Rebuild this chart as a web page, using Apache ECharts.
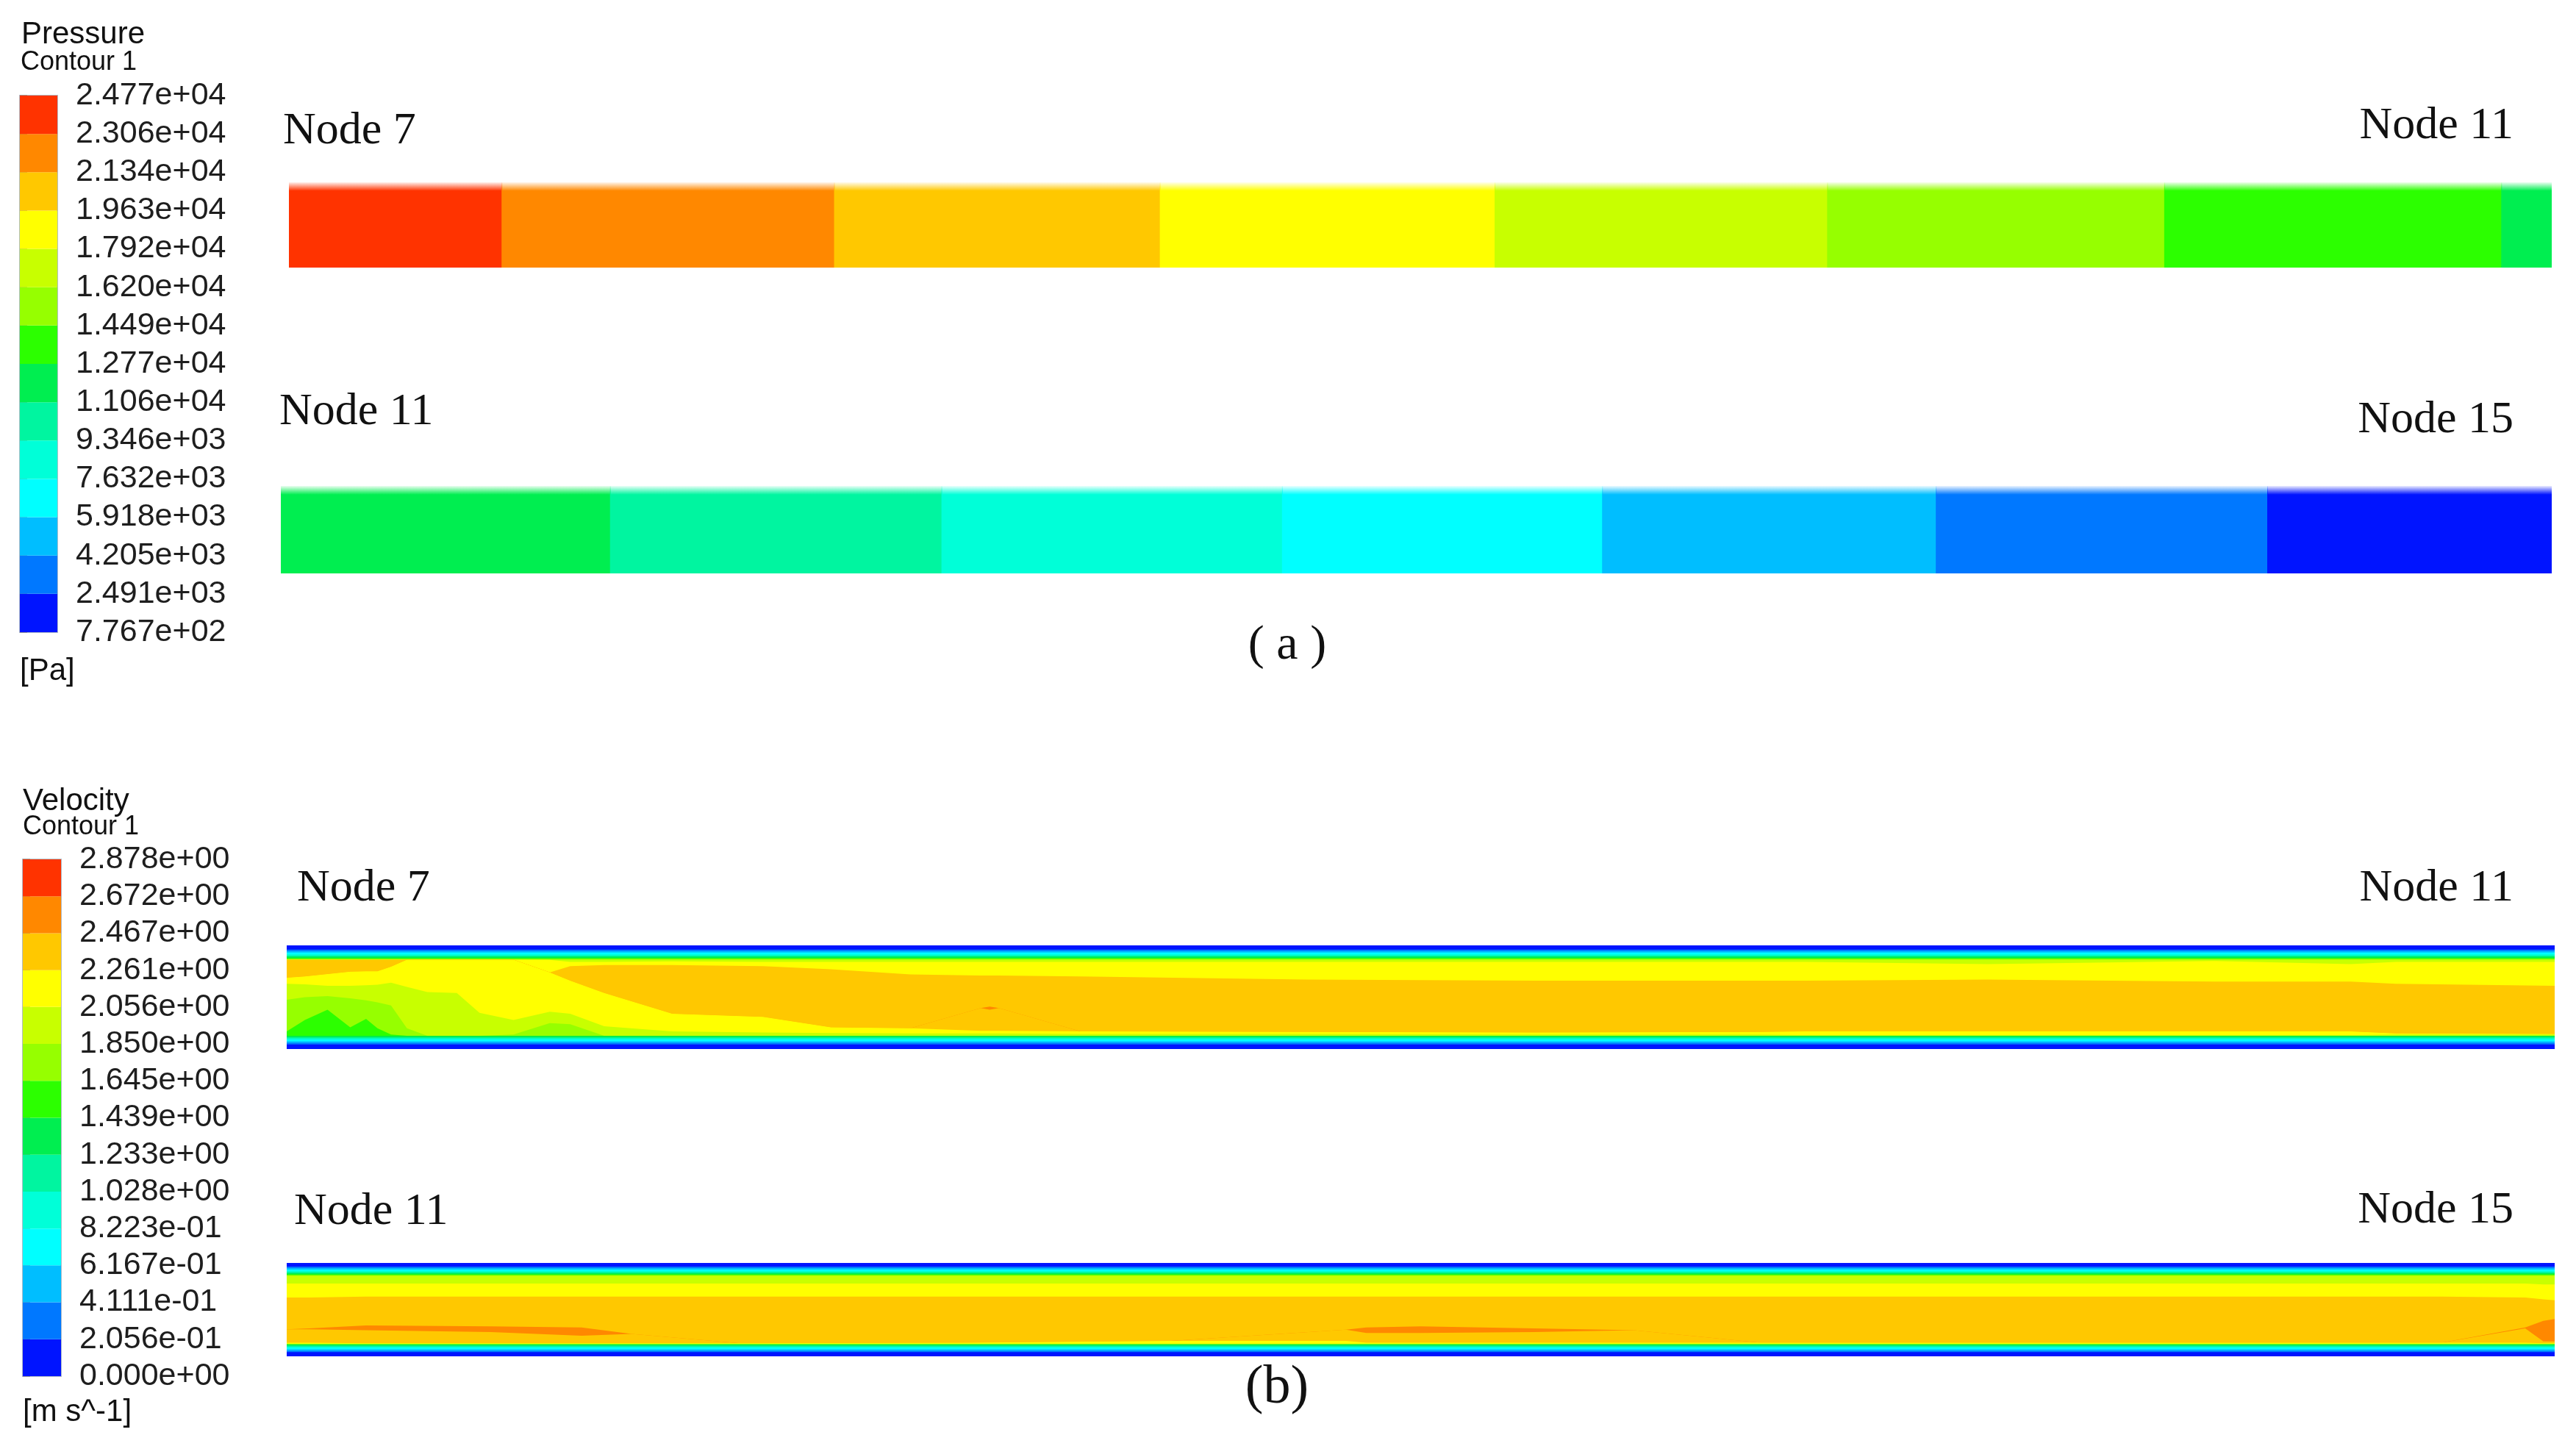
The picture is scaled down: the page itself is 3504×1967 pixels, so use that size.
<!DOCTYPE html>
<html>
<head>
<meta charset="utf-8">
<title>Pressure / Velocity contours</title>
<script src="https://cdn.jsdelivr.net/npm/echarts/dist/echarts.min.js"></script>
<style>
  html, body { margin: 0; padding: 0; background: #fff; }
  #main { width: 3504px; height: 1967px; }
</style>
</head>
<body>
<div id="main"></div>
<script>
// colour bands, low -> high (rainbow, 14 bands)
var bandColors = ['#0014ff', '#0078ff', '#00beff', '#00ffff', '#00ffd8', '#00f5a0', '#00ee50',
                  '#2cff00', '#96ff00', '#c8ff00', '#ffff00', '#ffc800', '#ff8800', '#ff3300'];

// legend tick labels (band boundaries)
var pressureTicks = ['7.767e+02', '2.491e+03', '4.205e+03', '5.918e+03', '7.632e+03', '9.346e+03', '1.106e+04',
                     '1.277e+04', '1.449e+04', '1.620e+04', '1.792e+04', '1.963e+04', '2.134e+04', '2.306e+04', '2.477e+04'];
var velocityTicks = ['0.000e+00', '2.056e-01', '4.111e-01', '6.167e-01', '8.223e-01', '1.028e+00', '1.233e+00',
                     '1.439e+00', '1.645e+00', '1.850e+00', '2.056e+00', '2.261e+00', '2.467e+00', '2.672e+00', '2.878e+00'];

// pressure along the pipes: segment edges (% of pipe length) and pressure [Pa]
var pTopEdges = [0, 9.4, 24.1, 38.5, 53.3, 68.0, 82.9, 97.8, 100];
var pTopValues = [24000, 22200, 20500, 18800, 17100, 15300, 13600, 11900];
var pBotEdges = [0, 14.5, 29.1, 44.1, 58.2, 72.9, 87.5, 100];
var pBotValues = [11900, 10200, 8500, 6800, 5100, 3400, 1600];

// velocity near-wall layers (thickness, % of pipe height)
var wallBottom = [4.5, 1.5, 1.5, 1.5, 1.2, 1.2, 1.3];            // bands 0..6 from the bottom wall
var wallTop = [4, 1.5, 1.5, 1.5, 1.2, 1.2, 1.3, 0.8, 0.8];        // bands 0..8 from the top wall

// velocity pipe Node 7 -> Node 11: contour boundaries (% of height from bottom) along x (% of length)
var vTopX = [0, 0.8, 1.8, 2.8, 3.5, 4.0, 4.6, 5.3, 6.2, 7.5, 8.5, 10, 11.6, 12.5, 14, 17, 21, 24, 27.5, 30.6, 31, 31.4, 35, 45, 55, 65, 67, 75, 85, 91, 93, 100];
var vTopLime = [17, 28, 38, 21, 29, 20, 14, 12.7, 12.7, 12.7, 12.7, 12.7, 12.7, 12.7, 12.7, 12.7, 12.7, 12.7, 12.7, 12.7, 12.7, 12.7, 12.7, 12.7, 12.7, 12.7, 12.7, 12.7, 12.7, 12.7, 12.7, 12.7];
var vTopChart = [47.5, 50, 51, 49, 47, 45, 42, 20, 12.7, 12.7, 12.7, 14, 25, 24, 12.7, 12.7, 12.7, 12.7, 12.7, 12.7, 12.7, 12.7, 12.7, 12.7, 12.7, 12.7, 12.7, 12.7, 12.7, 12.7, 12.7, 12.7];
var vTopC8 = [63, 62.5, 61, 61, 61.5, 62, 64, 60, 55, 54, 35, 28, 36, 34, 22, 17, 16, 15.5, 15, 15, 15, 15, 14.5, 14.5, 14, 14, 13.5, 13.5, 13.5, 13.5, 14, 14];
var vTopGoldLow = [68.8, 70, 72.3, 74.6, 75, 75, 79.5, 86.2, 86.2, 86.2, 86.2, 86.2, 74, 66, 54, 34, 31, 21, 20, 17.5, 17.5, 17.5, 17, 16.5, 16, 16.5, 17, 17, 17, 17, 15, 14.5];
var vTopOrangeLow = [null, null, null, null, null, null, null, null, null, null, null, null, null, null, null, null, null, null, null, 39.5, 38, 39.5, null, null, null, null, null, null, null, null, null, null];
var vTopOrangeHigh = [null, null, null, null, null, null, null, null, null, null, null, null, null, null, null, null, null, null, null, 39.5, 41, 39.5, null, null, null, null, null, null, null, null, null, null];
var vTopGoldHigh = [86.2, 86.2, 86.2, 86.2, 86.2, 86.2, 86.2, 86.2, 86.2, 86.2, 86.2, 86.2, 74, 80, 81, 81, 80, 77, 72, 71, 71, 71, 70, 67, 66, 66, 66, 67, 65, 65, 63, 61];
var vTopYellowHigh = [86.2, 86.2, 86.2, 86.2, 86.2, 86.2, 86.2, 86.2, 86.2, 86.2, 86.2, 86.2, 86, 84, 84, 84.5, 84, 84, 84, 84, 84, 84, 84, 84, 84, 84, 84, 82, 85, 82, 84, 84];

// velocity pipe Node 11 -> Node 15
var vBotX = [0, 1, 3.5, 9, 13, 15.2, 20, 30, 39, 46.7, 47.6, 50, 55, 59.4, 65, 75, 85, 95, 98.7, 99.5, 100];
var vBotLime = [12.7, 12.7, 12.7, 12.7, 12.7, 12.7, 12.7, 12.7, 12.7, 12.7, 12.7, 12.7, 12.7, 12.7, 12.7, 12.7, 12.7, 12.7, 12.7, 12.7, 12.7];
var vBotChart = [12.7, 12.7, 12.7, 12.7, 12.7, 12.7, 12.7, 12.7, 12.7, 12.7, 12.7, 12.7, 12.7, 12.7, 12.7, 12.7, 12.7, 12.7, 12.7, 12.7, 12.7];
var vBotC8 = [13.5, 13.5, 13.5, 13.5, 13.5, 13.5, 13.5, 13.5, 13.5, 13.5, 13.5, 13.5, 13.5, 13.5, 13.5, 13.5, 13.5, 13.5, 13.5, 13.5, 13.5];
var vBotGoldLow = [14.5, 14.5, 14, 14, 14, 14, 14, 14.5, 16.5, 16.5, 14.5, 14.5, 14.5, 14.5, 14.5, 14.5, 14.5, 14.5, 14.5, 14, 14];
var vBotOrangeLow = [29, 29, 28, 26, 22, 24, null, null, null, 28.5, 25, 25, 26, 28, null, null, null, null, 30, 16, 16];
var vBotOrangeHigh = [29, 30, 33, 32, 31, 24, null, null, null, 28.5, 31, 32, 30, 28, null, null, null, null, 31, 38, 40];
var vBotGoldHigh = [63, 63, 64, 64, 64, 64, 64, 64, 64, 64, 64, 64, 64, 64, 64, 64, 64, 64, 63, 61, 60];
var vBotYellowHigh = [78, 78, 78, 78, 78, 78, 78, 78, 78, 78, 78, 78, 78, 78, 78, 78, 78, 78, 78, 77, 77];

var pressureLevels = pressureTicks.map(Number);

var sansFont = '"Liberation Sans", Arial, sans-serif';
var serifFont = '"Liberation Serif", "Times New Roman", serif';

function hexToRgba(hex, a) {
    var n = parseInt(hex.slice(1), 16);
    return 'rgba(' + (n >> 16 & 255) + ',' + (n >> 8 & 255) + ',' + (n & 255) + ',' + a + ')';
}

function bandOf(v, levels) {
    for (var i = 0; i < levels.length - 2; i++) {
        if (v < levels[i + 1]) return i;
    }
    return levels.length - 2;
}

// colour bar of a legend
function legendSeries(idx) {
    return {
        type: 'custom', xAxisIndex: idx, yAxisIndex: idx, silent: true,
        data: bandColors.map(function (c, i) { return [0, i]; }),
        renderItem: function (params, api) {
            var i = api.value(1);
            var p0 = api.coord([0, i + 1]);
            var p1 = api.coord([1, i]);
            return {
                type: 'rect',
                shape: { x: p0[0], y: p0[1], width: p1[0] - p0[0], height: p1[1] - p0[1] },
                style: { fill: bandColors[i] }
            };
        }
    };
}

// pressure pipe: constant-pressure segments
function segmentSeries(idx, edges, values) {
    var data = values.map(function (v, i) { return [edges[i], edges[i + 1], v]; });
    return {
        type: 'custom', xAxisIndex: idx, yAxisIndex: idx, silent: true, data: data,
        renderItem: function (params, api) {
            var p0 = api.coord([api.value(0), 100]);
            var p1 = api.coord([api.value(1), 0]);
            var c = bandColors[bandOf(api.value(2), pressureLevels)];
            return {
                type: 'rect',
                shape: { x: p0[0], y: p0[1], width: p1[0] - p0[0] + 1, height: p1[1] - p0[1] },
                style: {
                    fill: new echarts.graphic.LinearGradient(0, 0, 0, 1, [
                        { offset: 0, color: hexToRgba(c, 0.08) },
                        { offset: 0.1, color: c },
                        { offset: 1, color: c }
                    ])
                }
            };
        }
    };
}

// velocity pipe: stacked contour layers, painted top boundary first
function layerSeries(idx, xs, core) {
    var layers = [];
    var acc = 0;
    wallBottom.forEach(function (t, b) {
        acc += t;
        var v = acc;
        layers.push({ band: b, vals: xs.map(function () { return v; }) });
    });
    var orLow = core.orLow.map(function (v, i) { return v == null ? core.goldLow[i] : v; });
    var orHigh = core.orHigh.map(function (v, i) { return v == null ? core.goldLow[i] : v; });
    layers.push({ band: 7, vals: core.lime });
    layers.push({ band: 8, vals: core.chart });
    layers.push({ band: 9, vals: core.c8 });
    layers.push({ band: 10, vals: core.goldLow });
    layers.push({ band: 11, vals: orLow });
    layers.push({ band: 12, vals: orHigh });
    layers.push({ band: 11, vals: core.goldHigh });
    layers.push({ band: 10, vals: core.yellowHigh });
    var top = 100;
    var fromTop = [];
    wallTop.forEach(function (t, b) {
        fromTop.push({ band: b, top: top });
        top -= t;
    });
    var c8Top = top;
    layers.push({ band: 9, vals: xs.map(function () { return c8Top; }) });
    for (var k = fromTop.length - 1; k >= 0; k--) {
        (function (f) {
            layers.push({ band: f.band, vals: xs.map(function () { return f.top; }) });
        })(fromTop[k]);
    }
    return layers.reverse().map(function (l) {
        return {
            type: 'line', xAxisIndex: idx, yAxisIndex: idx, silent: true,
            symbol: 'none', showSymbol: false,
            lineStyle: { width: 0 },
            areaStyle: { color: bandColors[l.band], opacity: 1 },
            data: xs.map(function (x, i) { return [x, l.vals[i]]; })
        };
    });
}

function legendAxis(idx, ticks) {
    return {
        gridIndex: idx, type: 'value', min: 0, max: 14, interval: 1, position: 'right',
        axisLine: { show: false },
        axisTick: { show: true, length: 10, lineStyle: { color: '#9a9a9a', width: 2 } },
        splitLine: { show: false },
        axisLabel: {
            margin: 25, fontSize: 43, fontFamily: sansFont, color: '#1e1e1e',
            padding: [10, 0, 0, 0],
            formatter: function (v) { return ticks[Math.round(v)]; }
        }
    };
}

function hiddenAxis(idx, max) {
    return { gridIndex: idx, type: 'value', min: 0, max: max, show: false };
}

function label(text, x, y, size, font, align) {
    return {
        type: 'text', x: x, y: y, silent: true,
        style: {
            text: text, fontSize: size, fontFamily: font, fill: '#111',
            align: align || 'left', verticalAlign: 'middle',
            textAlign: align || 'left', textVerticalAlign: 'middle'
        }
    };
}

var chart = echarts.init(document.getElementById('main'));

var option = {
    animation: false,
    backgroundColor: '#fff',
    grid: [
        { left: 27, top: 130, width: 51, height: 730, show: true, borderColor: '#b0bcc8', borderWidth: 2 },
        { left: 393, top: 248, width: 3077, height: 116 },
        { left: 382, top: 661, width: 3088, height: 119 },
        { left: 31, top: 1169, width: 52, height: 703, show: true, borderColor: '#b0bcc8', borderWidth: 2 },
        { left: 390, top: 1286, width: 3085, height: 141 },
        { left: 390, top: 1718, width: 3085, height: 127 }
    ],
    xAxis: [hiddenAxis(0, 1), hiddenAxis(1, 100), hiddenAxis(2, 100), hiddenAxis(3, 1), hiddenAxis(4, 100), hiddenAxis(5, 100)],
    yAxis: [legendAxis(0, pressureTicks), hiddenAxis(1, 100), hiddenAxis(2, 100),
            legendAxis(3, velocityTicks), hiddenAxis(4, 100), hiddenAxis(5, 100)],
    series: [].concat(
        [legendSeries(0),
         segmentSeries(1, pTopEdges, pTopValues),
         segmentSeries(2, pBotEdges, pBotValues),
         legendSeries(3)],
        layerSeries(4, vTopX, {
            lime: vTopLime, chart: vTopChart, c8: vTopC8, goldLow: vTopGoldLow,
            orLow: vTopOrangeLow, orHigh: vTopOrangeHigh, goldHigh: vTopGoldHigh, yellowHigh: vTopYellowHigh
        }),
        layerSeries(5, vBotX, {
            lime: vBotLime, chart: vBotChart, c8: vBotC8, goldLow: vBotGoldLow,
            orLow: vBotOrangeLow, orHigh: vBotOrangeHigh, goldHigh: vBotGoldHigh, yellowHigh: vBotYellowHigh
        })
    ),
    graphic: [
        label('Pressure', 29, 47, 42, sansFont),
        label('Contour 1', 28, 85, 36, sansFont),
        label('[Pa]', 27, 913, 42, sansFont),
        label('Velocity', 31, 1090, 42, sansFont),
        label('Contour 1', 31, 1125, 36, sansFont),
        label('[m s^-1]', 31, 1921, 42, sansFont),
        label('Node 7', 385, 179, 62, serifFont),
        label('Node 11', 3419, 172, 62, serifFont, 'right'),
        label('Node 11', 380, 561, 62, serifFont),
        label('Node 15', 3419, 572, 62, serifFont, 'right'),
        label('( a )', 1751, 879, 66, serifFont, 'center'),
        label('Node 7', 404, 1209, 62, serifFont),
        label('Node 11', 3419, 1209, 62, serifFont, 'right'),
        label('Node 11', 400, 1649, 62, serifFont),
        label('Node 15', 3419, 1647, 62, serifFont, 'right'),
        label('(b)', 1737, 1889, 74, serifFont, 'center')
    ]
};

chart.setOption(option);
</script>
</body>
</html>
